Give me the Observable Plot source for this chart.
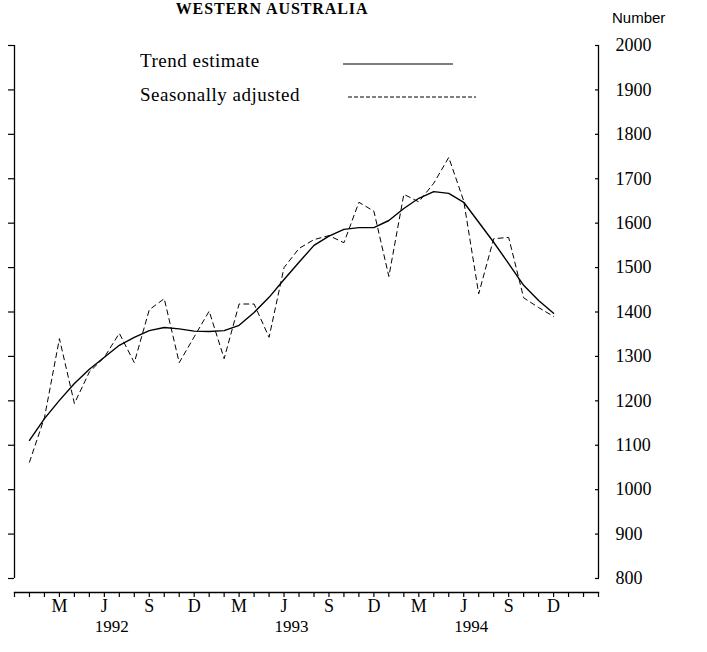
<!DOCTYPE html>
<html>
<head>
<meta charset="utf-8">
<script src="https://cdn.jsdelivr.net/npm/d3@7"></script>
<script src="https://cdn.jsdelivr.net/npm/@observablehq/plot@0.6"></script>
<style>
  body { margin: 0; background: #fff; }
  #wrap { position: relative; width: 707px; height: 652px; overflow: hidden; background: #fff; color: #000;
          font-family: "Liberation Serif", "Times New Roman", serif; }
  #chart { position: absolute; left: 0; top: 0; }
  #title { position: absolute; left: 0; width: 544px; top: 0px; text-align: center; font-weight: bold;
           font-size: 16px; line-height: 18px; letter-spacing: 0.9px; white-space: nowrap; }
  #unit { position: absolute; left: 612px; top: 9px; font-family: "Liberation Sans", Arial, sans-serif; font-size: 15px; }
  .lg { position: absolute; font-size: 19px; letter-spacing: 0.5px; white-space: nowrap; }
  .sw { position: absolute; }
</style>
</head>
<body>
<div id="wrap">
  <div id="chart"></div>
  <div id="title">WESTERN AUSTRALIA</div>
  <div id="unit">Number</div>
  <div class="lg" style="left:140px; top:50px;">Trend estimate</div>
  <svg class="sw" style="left:343px; top:60px;" width="116" height="8"><line x1="0" y1="4" x2="110" y2="4" stroke="#000" stroke-width="1.2"/></svg>
  <div class="lg" style="left:140px; top:84px;">Seasonally adjusted</div>
  <svg class="sw" style="left:348px; top:93px;" width="132" height="8"><line x1="0" y1="4" x2="128" y2="4" stroke="#000" stroke-width="1" stroke-dasharray="4,2"/></svg>
</div>
<script>
// ---- data ----
const months = [
  "1992-01","1992-02","1992-03","1992-04","1992-05","1992-06","1992-07","1992-08","1992-09","1992-10","1992-11","1992-12",
  "1993-01","1993-02","1993-03","1993-04","1993-05","1993-06","1993-07","1993-08","1993-09","1993-10","1993-11","1993-12",
  "1994-01","1994-02","1994-03","1994-04","1994-05","1994-06","1994-07","1994-08","1994-09","1994-10","1994-11","1994-12"
];
const trendEstimate = [
  1111, 1160, 1201, 1239, 1271, 1298, 1325, 1343, 1358, 1365, 1362, 1357,
  1356, 1358, 1370, 1399, 1433, 1473, 1512, 1550, 1571, 1586, 1590, 1590,
  1606, 1633, 1656, 1671, 1667, 1647, 1602, 1557, 1509, 1460, 1426, 1397
];
const seasonallyAdjusted = [
  1062, 1162, 1340, 1194, 1265, 1298, 1352, 1286, 1405, 1430, 1286, 1344,
  1402, 1295, 1418, 1418, 1343, 1500, 1543, 1563, 1572, 1556, 1647, 1627,
  1480, 1665, 1648, 1690, 1748, 1650, 1441, 1565, 1568, 1432, 1410, 1390
];
const yTicks = [800, 900, 1000, 1100, 1200, 1300, 1400, 1500, 1600, 1700, 1800, 1900, 2000];
const yDomain = [800, 2000];
const axisMonths = ["1991-12", "1995-03"]; // extent of the month axis
const monthTicks = ["1992-03","1992-06","1992-09","1992-12","1993-03","1993-06","1993-09","1993-12","1994-03","1994-06","1994-09","1994-12"];
const monthTickLabels = ["M","J","S","D","M","J","S","D","M","J","S","D"];
const years = ["1992", "1993", "1994"];

// ---- helpers ----
const idx = (s) => { const [y, m] = s.split("-").map(Number); return (y - 1992) * 12 + (m - 1); };
const xDomain = axisMonths.map(idx);
const trendData = months.map((m, i) => ({x: idx(m), y: trendEstimate[i]}));
const saData = months.map((m, i) => ({x: idx(m), y: seasonallyAdjusted[i]}));
const monthTickIdx = monthTicks.map(idx);
const monthLabelOf = new Map(monthTickIdx.map((v, i) => [v, monthTickLabels[i]]));
const allMonthTicks = d3.range(xDomain[0], xDomain[1] + 1);
const yearCenters = years.map(y => (idx(y + "-01") + idx(y + "-12")) / 2);
const yearLabelOf = new Map(yearCenters.map((v, i) => [v, years[i]]));

const chart = Plot.plot({
  width: 707,
  height: 652,
  marginLeft: 14,
  marginRight: 109,
  marginTop: 45,
  marginBottom: 60,
  style: {fontFamily: "'Liberation Serif', 'Times New Roman', serif", color: "#000", background: "transparent"},
  x: {type: "linear", domain: xDomain},
  y: {domain: yDomain, range: [578, 45]},
  marks: [
    Plot.ruleX(xDomain, {y1: yDomain[0], y2: yDomain[1], stroke: "#000", strokeWidth: 1.3}),
    Plot.frame({anchor: "bottom", stroke: "#000", strokeWidth: 1.3}),
    Plot.axisY({anchor: "left", ticks: yTicks, tickSize: 6, tickFormat: () => "", label: null, strokeWidth: 1.2}),
    Plot.axisY({anchor: "right", ticks: yTicks, tickSize: 4, insetRight: 4, tickPadding: 17, label: null,
                fontSize: 18, tickFormat: d => String(d), strokeWidth: 1.2}),
    Plot.axisX({anchor: "bottom", ticks: allMonthTicks, tickSize: 5, tickFormat: () => "", label: null, strokeWidth: 1.2}),
    Plot.axisX({anchor: "bottom", ticks: monthTickIdx, tickSize: 0, tickPadding: 7, fontSize: 18,
                tickFormat: d => monthLabelOf.get(d), label: null}),
    Plot.axisX({anchor: "bottom", ticks: yearCenters, tickSize: 0, tickPadding: 27, fontSize: 17,
                tickFormat: d => yearLabelOf.get(d), label: null}),
    Plot.line(saData, {x: "x", y: "y", stroke: "#000", strokeWidth: 1, strokeDasharray: "5,4"}),
    Plot.line(trendData, {x: "x", y: "y", stroke: "#000", strokeWidth: 1.4})
  ]
});
document.getElementById("chart").appendChild(chart);
</script>
</body>
</html>
